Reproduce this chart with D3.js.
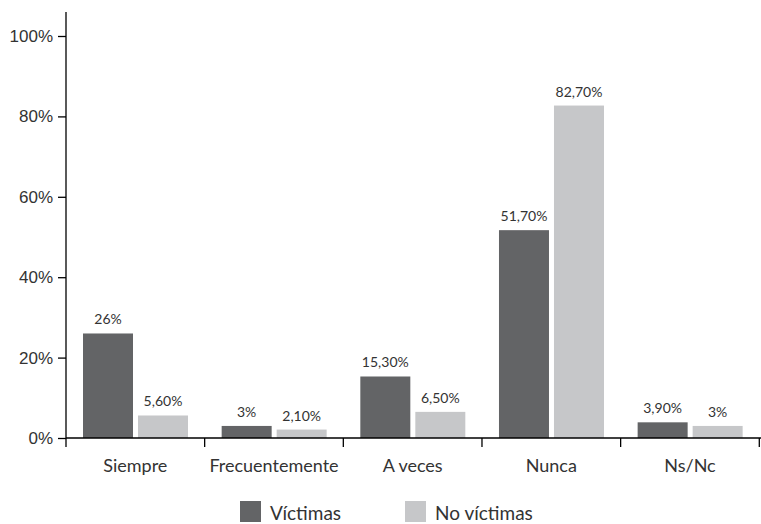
<!DOCTYPE html>
<html>
<head>
<meta charset="utf-8">
<script src="https://cdn.jsdelivr.net/npm/d3@7"></script>
<style>
  body { margin: 0; background: #fff; }
  svg { display: block; font-family: Lato, "Open Sans", sans-serif; }
  .axis path, .axis line { stroke: #000; stroke-width: 1.3; }
  .axis text { fill: #333; }
</style>
</head>
<body>
<script>
var categories = ["Siempre", "Frecuentemente", "A veces", "Nunca", "Ns/Nc"];
var seriesNames = ["Víctimas", "No víctimas"];
var victimas = [26, 3, 15.3, 51.7, 3.9];
var noVictimas = [5.6, 2.1, 6.5, 82.7, 3];
var victimasLabels = ["26%", "3%", "15,30%", "51,70%", "3,90%"];
var noVictimasLabels = ["5,60%", "2,10%", "6,50%", "82,70%", "3%"];
var yTicks = [0, 20, 40, 60, 80, 100];
var colors = ["#636466", "#c6c7c9"];

var width = 761, height = 524;

var svg = d3.select("body").append("svg")
    .attr("width", width)
    .attr("height", height);

//scales
var x = d3.scaleBand()
    .domain(categories)
    .range([66, 759.3]);

var bandW = x.bandwidth();
var barW = 50, barGap = 5, barOff = 17;

var y = d3.scaleLinear()
    .domain([0, 100])
    .range([438, 36]);

//bars
var series = [victimas, noVictimas];
var labels = [victimasLabels, noVictimasLabels];

series.forEach(function(vals, s){
    svg.selectAll(".bar" + s)
        .data(vals)
        .enter()
        .append("rect")
        .attr("x", function(d, i){ return x(categories[i]) + barOff + s * (barW + barGap); })
        .attr("y", function(d){ return y(d); })
        .attr("width", barW)
        .attr("height", function(d){ return y(0) - y(d); })
        .style("fill", colors[s]);

    svg.selectAll(".lab" + s)
        .data(vals)
        .enter()
        .append("text")
        .attr("x", function(d, i){ return x(categories[i]) + barOff + s * (barW + barGap) + barW / 2; })
        .attr("y", function(d){ return y(d) - 9; })
        .attr("text-anchor", "middle")
        .style("font-size", "14px")
        .style("fill", "#333")
        .text(function(d, i){ return labels[s][i]; });
});

//y axis
var yAxis = svg.append("g")
    .attr("class", "axis")
    .attr("transform", "translate(66,0)")
    .call(d3.axisLeft(y).tickValues(yTicks).tickSize(8).tickSizeOuter(0)
        .tickFormat(function(d){ return d + "%"; }));
yAxis.select(".domain").attr("d", "M0,438V12");
yAxis.selectAll("text").style("font-size", "17px").attr("x", -13);

//x axis
var xAxis = svg.append("g")
    .attr("class", "axis")
    .attr("transform", "translate(0,438)");
xAxis.append("line")
    .attr("x1", 66).attr("x2", 761)
    .attr("y1", 0).attr("y2", 0);
var edges = categories.map(function(c){ return x(c); }).concat([x.range()[1]]);
xAxis.selectAll(".tk")
    .data(edges)
    .enter()
    .append("line")
    .attr("x1", function(d){ return d; })
    .attr("x2", function(d){ return d; })
    .attr("y1", 0).attr("y2", 9);
xAxis.selectAll(".cat")
    .data(categories)
    .enter()
    .append("text")
    .attr("x", function(d){ return x(d) + bandW / 2; })
    .attr("y", 34)
    .attr("text-anchor", "middle")
    .style("font-size", "18px")
    .text(function(d){ return d; });

//legend
var legX = [240, 405];
var legend = svg.selectAll(".legend")
    .data(seriesNames)
    .enter()
    .append("g")
    .attr("transform", function(d, i){ return "translate(" + legX[i] + ",501)"; });
legend.append("rect")
    .attr("width", 21).attr("height", 21)
    .style("fill", function(d, i){ return colors[i]; });
legend.append("text")
    .attr("x", 30).attr("y", 19)
    .style("font-size", "19px")
    .style("fill", "#333")
    .text(function(d){ return d; });
</script>
</body>
</html>
